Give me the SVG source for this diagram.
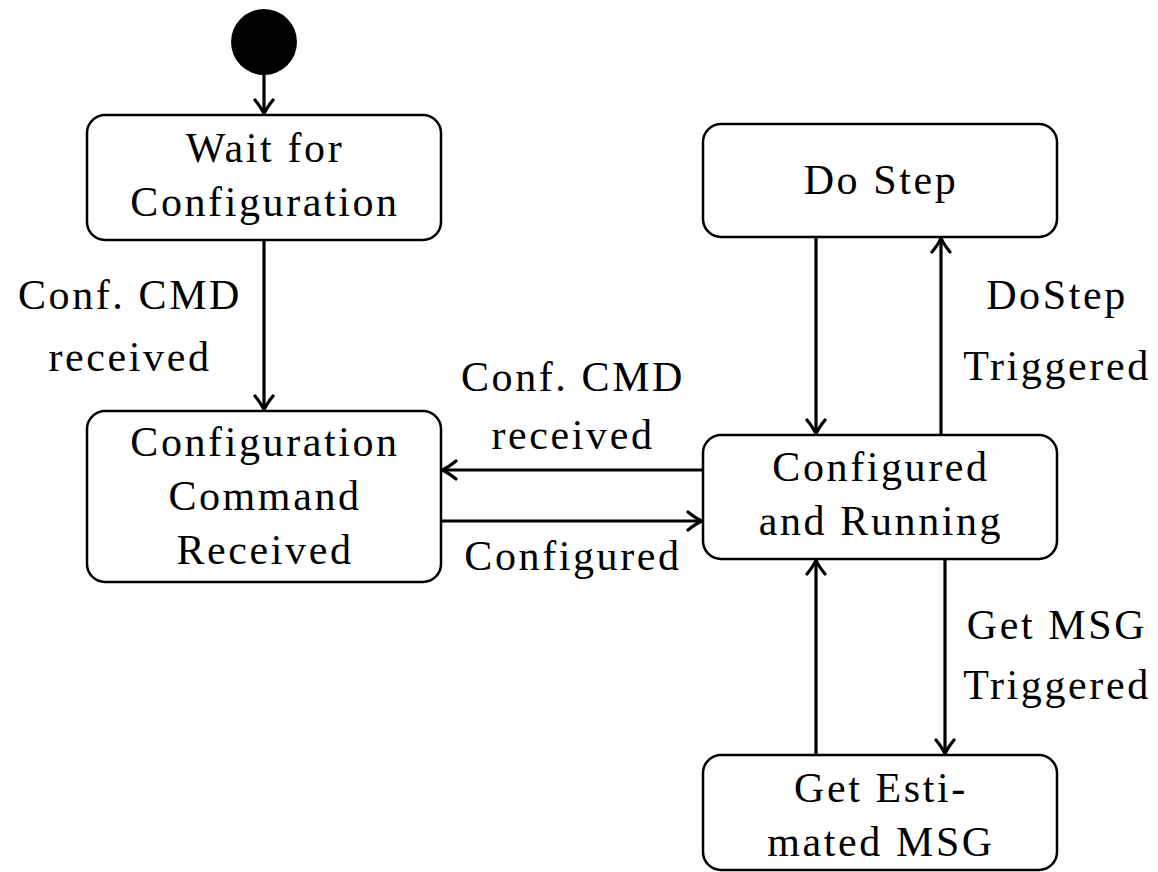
<svg xmlns="http://www.w3.org/2000/svg" width="1158" height="872" viewBox="0 0 1158 872">
  <style>
    .state { fill: #ffffff; stroke: #000000; stroke-width: 2.5; }
    .t { font-family: "Liberation Serif", "DejaVu Serif", serif; font-size: 42px; letter-spacing: 2.6px; fill: #000000; text-anchor: middle; }
    .edge { fill: none; stroke: #000000; stroke-width: 3.2; marker-end: url(#arrow); }
  </style>
  <defs>
    <marker id="arrow" viewBox="0 0 18 22" refX="16" refY="11" markerWidth="18" markerHeight="22" markerUnits="userSpaceOnUse" orient="auto">
      <path d="M2,2 Q10,8.5 16,11 Q10,13.5 2,20" fill="none" stroke="#000000" stroke-width="3.2" stroke-linecap="round" stroke-linejoin="round"/>
    </marker>
  </defs>

  <g id="initial">
    <circle cx="264" cy="42" r="33" fill="#000000"/>
  </g>

  <g id="wait-config">
    <rect class="state" x="87" y="115" width="354" height="125" rx="18"/>
    <text class="t" x="265" y="162">Wait for</text>
    <text class="t" x="265" y="216">Configuration</text>
  </g>

  <g id="config-received">
    <rect class="state" x="87" y="411" width="354" height="171" rx="18"/>
    <text class="t" x="265" y="456">Configuration</text>
    <text class="t" x="265" y="510">Command</text>
    <text class="t" x="265" y="564">Received</text>
  </g>

  <g id="do-step">
    <rect class="state" x="703" y="124" width="354" height="113" rx="18"/>
    <text class="t" x="881" y="194">Do Step</text>
  </g>

  <g id="running">
    <rect class="state" x="703" y="435" width="354" height="124" rx="18"/>
    <text class="t" x="881" y="481">Configured</text>
    <text class="t" x="881" y="535">and Running</text>
  </g>

  <g id="get-estimated">
    <rect class="state" x="703" y="755" width="354" height="115" rx="18"/>
    <text class="t" x="881" y="802">Get Esti-</text>
    <text class="t" x="881" y="856">mated MSG</text>
  </g>

  <g id="connectors">
    <line class="edge" x1="264" y1="75" x2="264" y2="114"/>
    <line class="edge" x1="264" y1="240" x2="264" y2="410"/>
    <line class="edge" x1="703" y1="470" x2="442" y2="470"/>
    <line class="edge" x1="441" y1="521" x2="702" y2="521"/>
    <line class="edge" x1="816" y1="237" x2="816" y2="434"/>
    <line class="edge" x1="941" y1="435" x2="941" y2="238"/>
    <line class="edge" x1="945" y1="559" x2="945" y2="754"/>
    <line class="edge" x1="816" y1="755" x2="816" y2="560"/>
  </g>

  <g id="labels">
    <text class="t" x="130" y="309">Conf. CMD</text>
    <text class="t" x="130" y="371">received</text>
    <text class="t" x="573" y="391">Conf. CMD</text>
    <text class="t" x="573" y="449">received</text>
    <text class="t" x="573" y="570">Configured</text>
    <text class="t" x="1057" y="309">DoStep</text>
    <text class="t" x="1057" y="380">Triggered</text>
    <text class="t" x="1057" y="639">Get MSG</text>
    <text class="t" x="1057" y="699">Triggered</text>
  </g>
</svg>
